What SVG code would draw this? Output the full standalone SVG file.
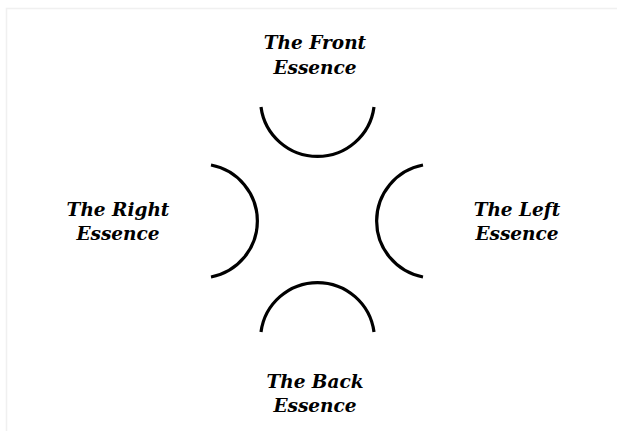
<svg xmlns="http://www.w3.org/2000/svg" width="617" height="431" viewBox="0 0 617 431">
<style>
.arc{fill:none;stroke:#000;stroke-width:3.2;stroke-linecap:butt}
.lbl{font-family:"DejaVu Serif","Liberation Serif",serif;font-weight:bold;font-style:italic;font-size:18.5px;fill:#000;text-anchor:middle}
</style>
<rect width="617" height="431" fill="#fff"/>
<path d="M6.5 431V8.5H617" fill="none" stroke="#f0f0f0" stroke-width="1.5"/>
<g id="connectors"></g>
<g id="front">
<path class="arc" d="M261 107A57 57 0 0 0 374 107"/>
<text class="lbl" x="315" y="49">The Front</text>
<text class="lbl" x="315" y="74">Essence</text>
</g>
<g id="back">
<path class="arc" d="M261 332A57 57 0 0 1 374 332"/>
<text class="lbl" x="315" y="388">The Back</text>
<text class="lbl" x="315" y="412">Essence</text>
</g>
<g id="right">
<path class="arc" d="M211 165A57 57 0 0 1 211 277"/>
<text class="lbl" x="118" y="216">The Right</text>
<text class="lbl" x="118" y="240">Essence</text>
</g>
<g id="left">
<path class="arc" d="M423 165A57 57 0 0 0 423 277"/>
<text class="lbl" x="517" y="216">The Left</text>
<text class="lbl" x="517" y="240">Essence</text>
</g>
</svg>
